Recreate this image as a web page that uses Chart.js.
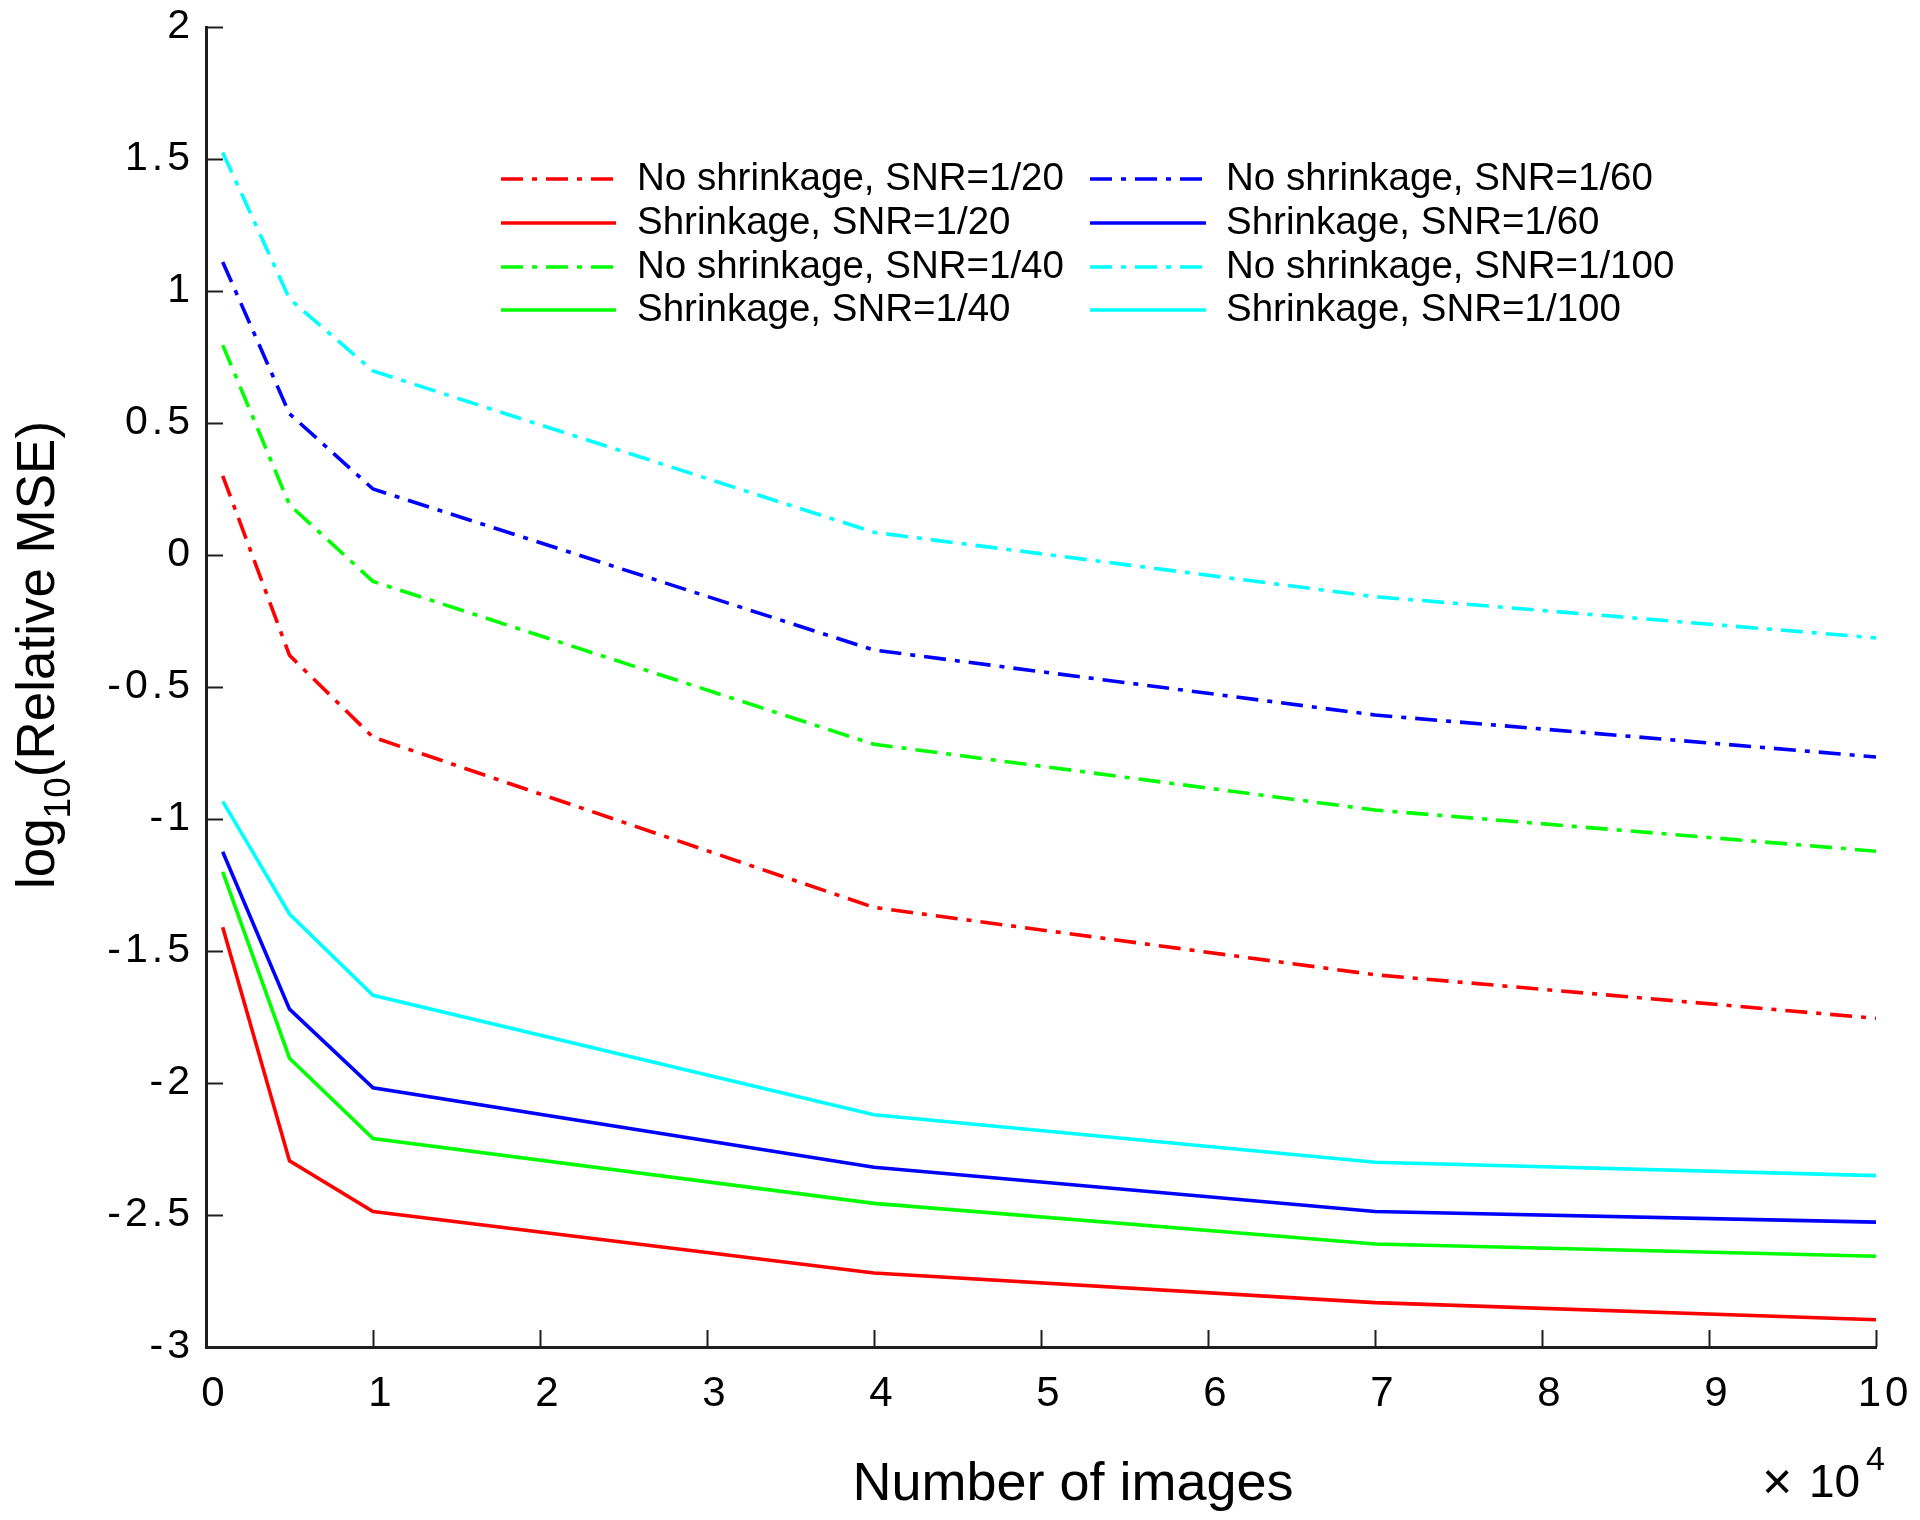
<!DOCTYPE html>
<html>
<head>
<meta charset="utf-8">
<script src="https://cdn.jsdelivr.net/npm/chart.js@4/dist/chart.umd.min.js"></script>
<style>
  html, body { margin: 0; padding: 0; background: #ffffff; }
  #wrap { width: 1920px; height: 1520px; position: relative; }
</style>
</head>
<body>
<div id="wrap"><canvas id="c" width="1920" height="1520"></canvas></div>
<script>
// ---------------- data (x in units of 10^4 images) ----------------
const imagesX10k = [0.1, 0.5, 1, 4, 7, 10];

const noShrink20  = [0.30, -0.38, -0.69, -1.335, -1.59, -1.755];
const shrink20    = [-1.41, -2.295, -2.487, -2.72, -2.832, -2.897];
const noShrink40  = [0.795, 0.19, -0.10, -0.717, -0.966, -1.122];
const shrink40    = [-1.20, -1.906, -2.21, -2.456, -2.61, -2.656];
const noShrink60  = [1.11, 0.535, 0.25, -0.36, -0.606, -0.765];
const shrink60    = [-1.124, -1.72, -2.018, -2.319, -2.487, -2.527];
const noShrink100 = [1.525, 0.97, 0.697, 0.086, -0.158, -0.314];
const shrink100   = [-0.933, -1.36, -1.668, -2.12, -2.30, -2.351];

const seriesLabels = [
  'No shrinkage, SNR=1/20', 'Shrinkage, SNR=1/20',
  'No shrinkage, SNR=1/40', 'Shrinkage, SNR=1/40',
  'No shrinkage, SNR=1/60', 'Shrinkage, SNR=1/60',
  'No shrinkage, SNR=1/100', 'Shrinkage, SNR=1/100'
];
const seriesValues = [noShrink20, shrink20, noShrink40, shrink40, noShrink60, shrink60, noShrink100, shrink100];
const seriesColors = ['#ff0000', '#ff0000', '#00ff00', '#00ff00', '#0000ff', '#0000ff', '#00ffff', '#00ffff'];
const seriesDashed = [true, false, true, false, true, false, true, false];

const xTickLabels = ['0', '1', '2', '3', '4', '5', '6', '7', '8', '9', '10'];
const yTickLabels = ['-3', '-2.5', '-2', '-1.5', '-1', '-0.5', '0', '0.5', '1', '1.5', '2'];

const xTitle = 'Number of images';
const yTitleParts = ['log', '10', '(Relative MSE)'];
const xMultiplier = ['\u00d7', '10', '4'];

// ---------------- styling ----------------
const FONT = "'Liberation Sans', Arial, Helvetica, sans-serif";
const DASH_DOT = [22, 9, 5, 9];
const AXIS_COLOR = '#1e1e1e';
const LINE_W = 3.6;

const datasets = seriesLabels.map((label, i) => ({
  label,
  data: imagesX10k.map((x, k) => ({ x, y: seriesValues[i][k] })),
  borderColor: seriesColors[i],
  backgroundColor: seriesColors[i],
  borderWidth: LINE_W,
  borderDash: seriesDashed[i] ? DASH_DOT : [],
  borderCapStyle: 'butt',
  pointRadius: 0,
  pointHoverRadius: 0,
  tension: 0,
  fill: false
}));

const tickSpacing = {
  id: 'tickSpacing',
  beforeDraw(chart) { chart.ctx.letterSpacing = '4px'; },
  beforeDatasetsDraw(chart) { chart.ctx.letterSpacing = '0px'; }
};

const decor = {
  id: 'decor',
  afterDraw(chart) {
    const { ctx, chartArea: a, scales } = chart;
    const xs = scales.x, ys = scales.y;
    ctx.save();
    ctx.letterSpacing = '0px';

    // inward tick marks
    ctx.strokeStyle = AXIS_COLOR;
    ctx.lineWidth = 2;
    ctx.setLineDash([]);
    xs.ticks.forEach(t => {
      const px = Math.round(xs.getPixelForValue(t.value)) + 0.5;
      ctx.beginPath(); ctx.moveTo(px, a.bottom); ctx.lineTo(px, a.bottom - 17); ctx.stroke();
    });
    ys.ticks.forEach(t => {
      const py = Math.round(ys.getPixelForValue(t.value)) + 0.5;
      ctx.beginPath(); ctx.moveTo(a.left, py); ctx.lineTo(a.left + 17, py); ctx.stroke();
    });

    // legend (two columns, drawn inside the plot)
    const colLine = [[501, 616], [1090, 1206]];
    const colText = [637, 1226];
    const rowY = [179, 223, 267, 310];
    ctx.font = '38.5px ' + FONT;
    ctx.textBaseline = 'middle';
    ctx.textAlign = 'left';
    chart.data.datasets.forEach((d, i) => {
      const col = i < 4 ? 0 : 1;
      const row = i % 4;
      const yy = rowY[row];
      ctx.strokeStyle = d.borderColor;
      ctx.lineWidth = LINE_W;
      ctx.lineCap = 'butt';
      ctx.setLineDash(d.borderDash);
      ctx.beginPath(); ctx.moveTo(colLine[col][0], yy); ctx.lineTo(colLine[col][1], yy); ctx.stroke();
      ctx.setLineDash([]);
      ctx.fillStyle = '#000';
      ctx.fillText(d.label, colText[col], yy);
    });

    // x title
    ctx.fillStyle = '#000';
    ctx.textBaseline = 'alphabetic';
    ctx.textAlign = 'center';
    ctx.font = '54px ' + FONT;
    ctx.fillText(xTitle, 1073, 1500);

    // x multiplier  "× 10^4"
    ctx.textAlign = 'left';
    ctx.font = '52px ' + FONT;
    ctx.fillText(xMultiplier[0], 1762, 1499);
    ctx.font = '46px ' + FONT;
    ctx.fillText(xMultiplier[1], 1809, 1497);
    ctx.font = '34px ' + FONT;
    ctx.fillText(xMultiplier[2], 1866, 1470);

    // y title with subscript, rotated
    ctx.save();
    ctx.translate(54, 655);
    ctx.rotate(-Math.PI / 2);
    const big = '53px ' + FONT, small = '37px ' + FONT;
    ctx.font = big; const w1 = ctx.measureText(yTitleParts[0]).width;
    const w3 = ctx.measureText(yTitleParts[2]).width;
    ctx.font = small; const w2 = ctx.measureText(yTitleParts[1]).width;
    let sx = -(w1 + w2 + w3) / 2;
    ctx.font = big; ctx.fillText(yTitleParts[0], sx, 0); sx += w1;
    ctx.font = small; ctx.fillText(yTitleParts[1], sx, 16); sx += w2;
    ctx.font = big; ctx.fillText(yTitleParts[2], sx, 0);
    ctx.restore();

    ctx.restore();
  }
};

new Chart(document.getElementById('c'), {
  type: 'line',
  data: { datasets },
  options: {
    responsive: false,
    devicePixelRatio: 1,
    animation: false,
    events: [],
    layout: { padding: { left: 0, right: 44, top: 27, bottom: 0 } },
    plugins: { legend: { display: false }, tooltip: { enabled: false } },
    scales: {
      x: {
        type: 'linear',
        min: 0, max: 10,
        afterFit: s => { s.height = 173; s.paddingLeft = 0; s.paddingRight = 0; },
        afterBuildTicks: s => { s.ticks = xTickLabels.map((_, i) => ({ value: i })); },
        grid: { display: false, drawTicks: false, tickLength: 0 },
        border: { display: true, color: AXIS_COLOR, width: 3 },
        ticks: {
          color: '#000',
          padding: 22,
          labelOffset: 9,
          maxRotation: 0,
          autoSkip: false,
          font: { family: FONT, size: 42 },
          callback: (v, i) => xTickLabels[i]
        }
      },
      y: {
        type: 'linear',
        min: -3, max: 2,
        afterFit: s => { s.width = 206; s.paddingTop = 0; s.paddingBottom = 0; },
        afterBuildTicks: s => { s.ticks = yTickLabels.map((_, i) => ({ value: -3 + 0.5 * i })); },
        grid: { display: false, drawTicks: false, tickLength: 0 },
        border: { display: true, color: AXIS_COLOR, width: 3 },
        ticks: {
          color: '#000',
          padding: 12,
          autoSkip: false,
          font: { family: FONT, size: 41 },
          callback: (v, i) => yTickLabels[i]
        }
      }
    }
  },
  plugins: [tickSpacing, decor]
});
</script>
</body>
</html>
